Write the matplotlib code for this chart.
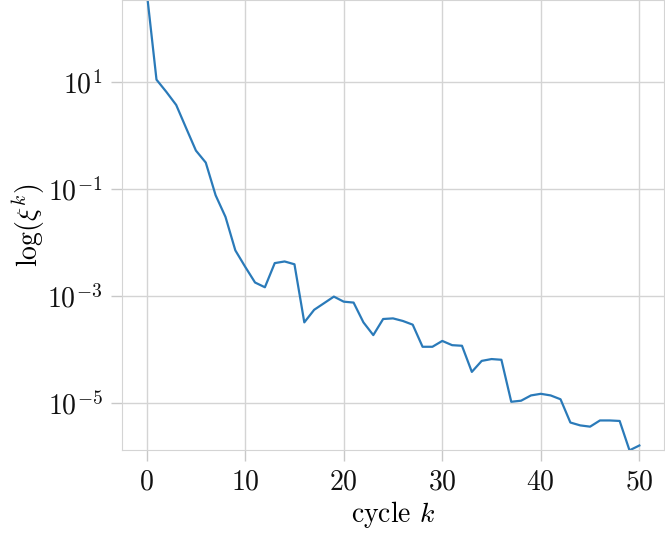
import matplotlib
matplotlib.use("Agg")
import matplotlib.pyplot as plt

# residual per cycle
cycles = list(range(51))
xi = [
    5.0e2, 11.0, 6.5, 3.7, 1.38, 0.52, 0.31, 0.076, 0.030, 0.0071,
    0.0035, 1.78e-3, 1.45e-3, 4.1e-3, 4.4e-3, 3.9e-3, 3.2e-4, 5.5e-4, 7.3e-4, 9.7e-4,
    7.8e-4, 7.5e-4, 3.2e-4, 1.85e-4, 3.7e-4, 3.8e-4, 3.4e-4, 2.9e-4, 1.12e-4, 1.12e-4,
    1.44e-4, 1.2e-4, 1.17e-4, 3.8e-5, 6.1e-5, 6.6e-5, 6.4e-5, 1.05e-5, 1.1e-5, 1.38e-5,
    1.48e-5, 1.38e-5, 1.17e-5, 4.3e-6, 3.8e-6, 3.6e-6, 4.7e-6, 4.7e-6, 4.6e-6, 1.3e-6,
    1.6e-6,
]
yticks = [1e1, 1e-1, 1e-3, 1e-5]
xticks = [0, 10, 20, 30, 40, 50]

plt.rcParams["font.family"] = "serif"
plt.rcParams["font.serif"] = ["cmr10"]
plt.rcParams["mathtext.fontset"] = "cm"
plt.rcParams["axes.formatter.use_mathtext"] = True
plt.rcParams["font.size"] = 20

fig, ax = plt.subplots(figsize=(6.65, 5.37), dpi=100)
fig.subplots_adjust(left=122 / 665, right=664 / 665, top=1.0, bottom=1 - 450 / 537)

ax.plot(cycles, xi, color="#2a7ab9", linewidth=1.6)
ax.set_yscale("log")
ax.set_xlim(-2.5, 52.5)
ax.set_ylim(10 ** -5.88, 10 ** 2.53)
ax.set_yticks(yticks)
ax.minorticks_off()
ax.set_xticks(xticks)

ax.grid(True, color="#d4d4d4", linewidth=1.0)
ax.set_axisbelow(True)
for s in ax.spines.values():
    s.set_color("#d4d4d4")
ax.tick_params(colors="#c8c8c8", labelcolor="#111111", length=8, width=1.0,
               pad=6, labelsize=20)

ax.set_xlabel("cycle $k$", fontsize=20, labelpad=2)
ax.set_ylabel(r"$\log(\xi^k)$", fontsize=20, labelpad=0)

fig.savefig("out.png", dpi=100)
